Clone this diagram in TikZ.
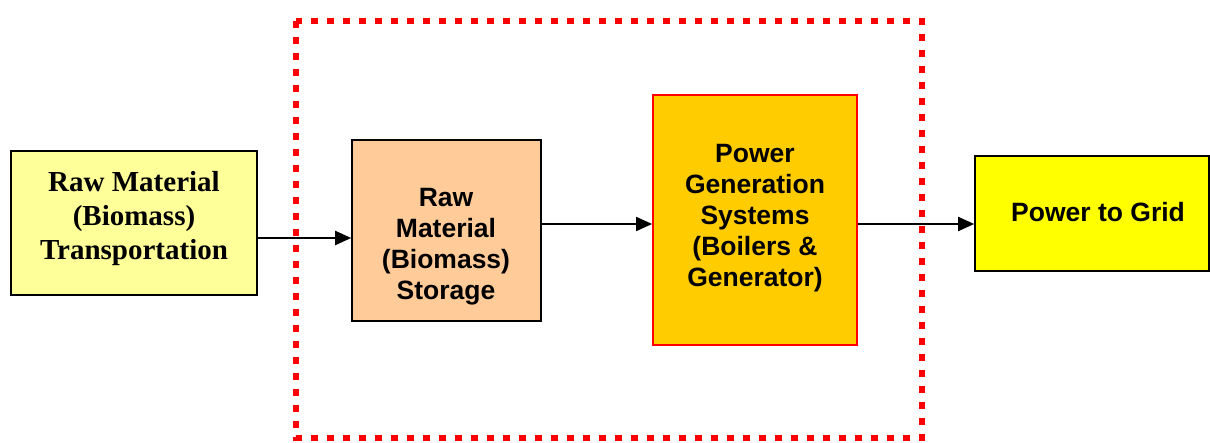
\documentclass[tikz,border=0pt]{standalone}
\usepackage{fontspec}
\setmainfont{Liberation Serif}
\setsansfont{Liberation Sans}
\usetikzlibrary{arrows.meta}
\definecolor{lightyel}{HTML}{FFFF99}
\definecolor{peach}{HTML}{FFCC99}
\definecolor{gold}{HTML}{FFCC00}
\definecolor{brightyel}{HTML}{FFFF00}
\definecolor{pred}{HTML}{FF0000}
\tikzset{
  blk/.style={draw=black, line width=1.6pt},
  sertext/.style={font=\fontsize{29}{34}\selectfont\bfseries\rmfamily, align=center},
  santext/.style={font=\fontsize{26.5}{31}\selectfont\bfseries\sffamily, align=center},
  flow/.style={line width=1.9pt, -{Triangle[length=16pt,width=14pt]}},
  dotframe/.style={draw=pred, line width=6.5pt, dash pattern=on 7pt off 9pt}
}
\begin{document}
\begin{tikzpicture}[x=1pt,y=-1pt]
\useasboundingbox (0,0) rectangle (1210,443);
% dotted frame
\draw[dotframe] (296,21) rectangle (922,438);
% boxes
\node[blk, fill=lightyel, minimum width=246pt, minimum height=144pt, inner sep=0pt] (trans) at (134,223) {};
\node[sertext] (transT) at (134,219) {Raw Material\\(Biomass)\\Transportation};
\node[blk, fill=peach, minimum width=189pt, minimum height=181pt, inner sep=0pt] (stor) at (446.5,230.5) {};
\node[santext] (storT) at (446,247) {Raw\\Material\\(Biomass)\\Storage};
\node[draw=pred, line width=1.8pt, fill=gold, minimum width=204pt, minimum height=250pt, inner sep=0pt] (gen) at (755,220) {};
\node[santext] (genT) at (755,218) {Power\\Generation\\Systems\\(Boilers \&\\Generator)};
\node[blk, fill=brightyel, minimum width=234pt, minimum height=115pt, inner sep=0pt] (grid) at (1092,213.5) {};
\node[santext] (gridT) at (1098,212) {Power to Grid};
% arrows
\draw[flow] (trans.east |- 0,238) -- (stor.west |- 0,238);
\draw[flow] (stor.east |- 0,224) -- (gen.west |- 0,224);
\draw[flow] (gen.east |- 0,224) -- (grid.west |- 0,224);
\end{tikzpicture}
\end{document}
